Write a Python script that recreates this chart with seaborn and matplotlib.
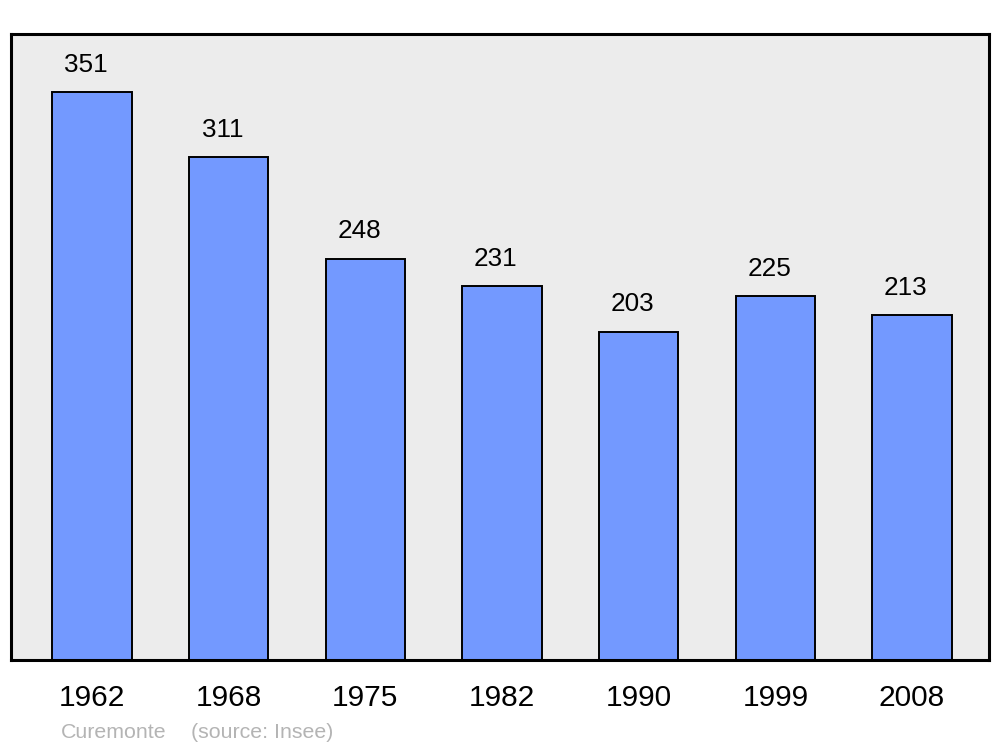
import pandas as pd
import matplotlib
matplotlib.use("Agg")
import matplotlib.pyplot as plt
import seaborn as sns

# Données
years = ["1962", "1968", "1975", "1982", "1990", "1999", "2008"]
population = [351, 311, 248, 231, 203, 225, 213]
commune = "Curemonte"
source = "(source: Insee)"

df = pd.DataFrame({"year": years, "pop": population})

sns.set_theme(style="white")
plt.rcParams["font.family"] = ["Liberation Sans", "DejaVu Sans"]

fig = plt.figure(figsize=(10, 7.47), dpi=100)
ax = fig.add_axes([0.011, 0.1165, 0.978, 0.838])

sns.barplot(data=df, x="year", y="pop", color="#7399ff", saturation=1,
            width=0.58, edgecolor="black", linewidth=1.4, ax=ax)

ax.set_facecolor("#ececec")
ax.set_xlim(-0.593, 6.563)
ax.set_ylim(0, 387)
for sp in ax.spines.values():
    sp.set_linewidth(2.2)
    sp.set_color("black")

# Valeurs au-dessus des barres
for p, v in zip(ax.patches, population):
    cx = p.get_x() + p.get_width() / 2
    ax.text(cx - 0.045, v + 9.5, str(v), ha="center", va="bottom",
            fontsize=18.8, color="black")

ax.set_yticks([])
ax.set_xlabel("")
ax.set_ylabel("")
ax.tick_params(axis="x", length=0, labelsize=21.5, pad=17, labelcolor="black")

fig.text(0.061, 0.012, commune, fontsize=15.4, color="#b4b4b4", ha="left")
fig.text(0.191, 0.012, source, fontsize=15.4, color="#b4b4b4", ha="left")

fig.savefig("out.png", dpi=100)
